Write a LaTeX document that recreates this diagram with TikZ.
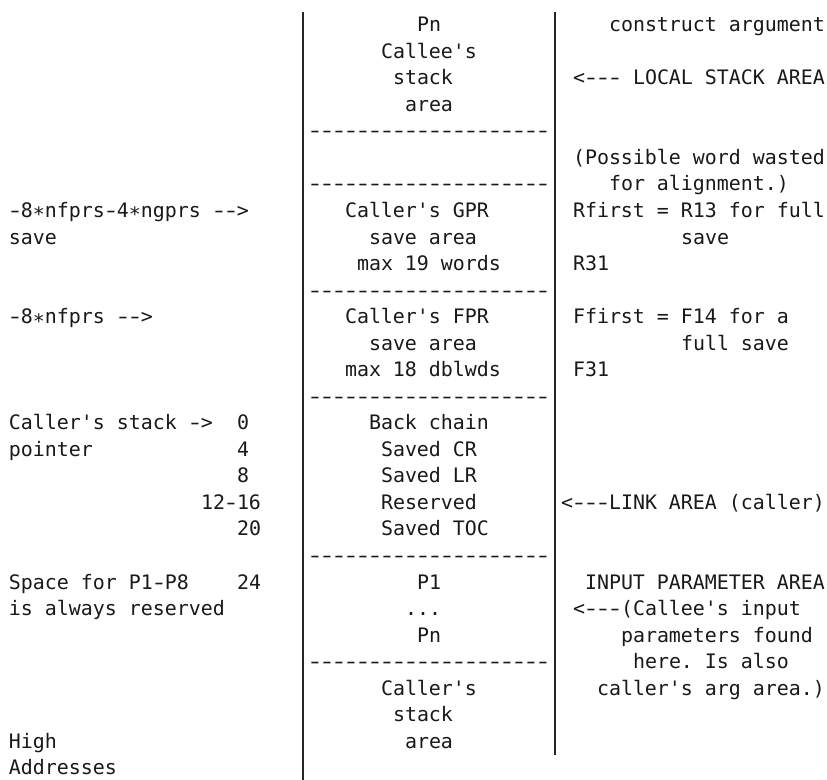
\documentclass[tikz,border=0pt]{standalone}
\usepackage{graphicx}
\usepackage{fontspec}
\setmonofont{DejaVu Sans Mono}
\newcommand\txtat[4]{\node[tx] (#1) at ({9+#2*12},{-31.7-#3*26.54}) {#4};}
\newcommand\hy{\makebox[12pt][c]{\scalebox{1.4}[1]{-}}}
\newcommand\hyfive{\hy\hy\hy\hy\hy}
\newcommand\hyrow{\hyfive\hyfive\hyfive\hyfive}
\newcommand\lowstar{\raisebox{-4.5pt}{*}}
\begin{document}
\begin{tikzpicture}[x=1pt,y=1pt,
  tx/.style={anchor=base west, inner sep=0pt, outer sep=0pt,
    font=\ttfamily\fontsize{19.93}{24}\selectfont, text=black!90},
  bar/.style={line width=1.6pt, draw=black!85}]
\fill[white] (0,0) rectangle (827,-779);
\useasboundingbox (0,0) rectangle (827,-779);
% vertical bars
\coordinate (lt) at (303,-11.7);
\coordinate (lb) at (303,-781);
\coordinate (rt) at (555,-11.7);
\coordinate (rb) at (555,-754.8);
\draw[bar] (lt) -- (lb);
\draw[bar] (rt) -- (rb);
% rows 0-6
\txtat{c0}{34}{0}{Pn}
\txtat{r0}{50}{0}{construct argument}
\txtat{c1}{31}{1}{Callee's}
\txtat{c2}{32}{2}{stack}
\txtat{r2}{47}{2}{<\hy\hy\hy{} LOCAL STACK AREA}
\txtat{c3}{33}{3}{area}
\txtat{d4}{25}{4}{\hyrow}
\txtat{r5}{47}{5}{(Possible word wasted}
\txtat{d6}{25}{6}{\hyrow}
\txtat{r6}{50}{6}{for alignment.)}
% GPR
\txtat{l7}{0}{7}{\hy8\lowstar{}nfprs\hy4\lowstar{}ngprs \hy\hy>}
\txtat{c7}{28}{7}{Caller's GPR}
\txtat{r7}{47}{7}{Rfirst = R13 for full}
\txtat{l8}{0}{8}{save}
\txtat{c8}{30}{8}{save area}
\txtat{r8}{56}{8}{save}
\txtat{c9}{29}{9}{max 19 words}
\txtat{r9}{47}{9}{R31}
\txtat{d10}{25}{10}{\hyrow}
% FPR
\txtat{l11}{0}{11}{\hy8\lowstar{}nfprs \hy\hy>}
\txtat{c11}{28}{11}{Caller's FPR}
\txtat{r11}{47}{11}{Ffirst = F14 for a}
\txtat{c12}{30}{12}{save area}
\txtat{r12}{56}{12}{full save}
\txtat{c13}{28}{13}{max 18 dblwds}
\txtat{r13}{47}{13}{F31}
\txtat{d14}{25}{14}{\hyrow}
% link area
\txtat{l15}{0}{15}{Caller's stack \hy>}
\txtat{n15}{19}{15}{0}
\txtat{c15}{30}{15}{Back chain}
\txtat{l16}{0}{16}{pointer}
\txtat{n16}{19}{16}{4}
\txtat{c16}{31}{16}{Saved CR}
\txtat{n17}{19}{17}{8}
\txtat{c17}{31}{17}{Saved LR}
\txtat{n18}{16}{18}{12\hy16}
\txtat{c18}{31}{18}{Reserved}
\txtat{r18}{46}{18}{<\hy\hy\hy{}LINK AREA (caller)}
\txtat{n19}{19}{19}{20}
\txtat{c19}{31}{19}{Saved TOC}
\txtat{d20}{25}{20}{\hyrow}
% input parameter area
\txtat{l21}{0}{21}{Space for P1\hy{}P8}
\txtat{n21}{19}{21}{24}
\txtat{c21}{34}{21}{P1}
\txtat{r21}{48}{21}{INPUT PARAMETER AREA}
\txtat{l22}{0}{22}{is always reserved}
\txtat{c22}{33}{22}{...}
\txtat{r22}{47}{22}{<\hy\hy\hy{}(Callee's input}
\txtat{c23}{34}{23}{Pn}
\txtat{r23}{51}{23}{parameters found}
\txtat{d24}{25}{24}{\hyrow}
\txtat{r24}{52}{24}{here. Is also}
\txtat{c25}{31}{25}{Caller's}
\txtat{r25}{49}{25}{caller's arg area.)}
\txtat{c26}{32}{26}{stack}
\txtat{l27}{0}{27}{High}
\txtat{c27}{33}{27}{area}
\txtat{l28}{0}{28}{Addresses}
\end{tikzpicture}
\end{document}
